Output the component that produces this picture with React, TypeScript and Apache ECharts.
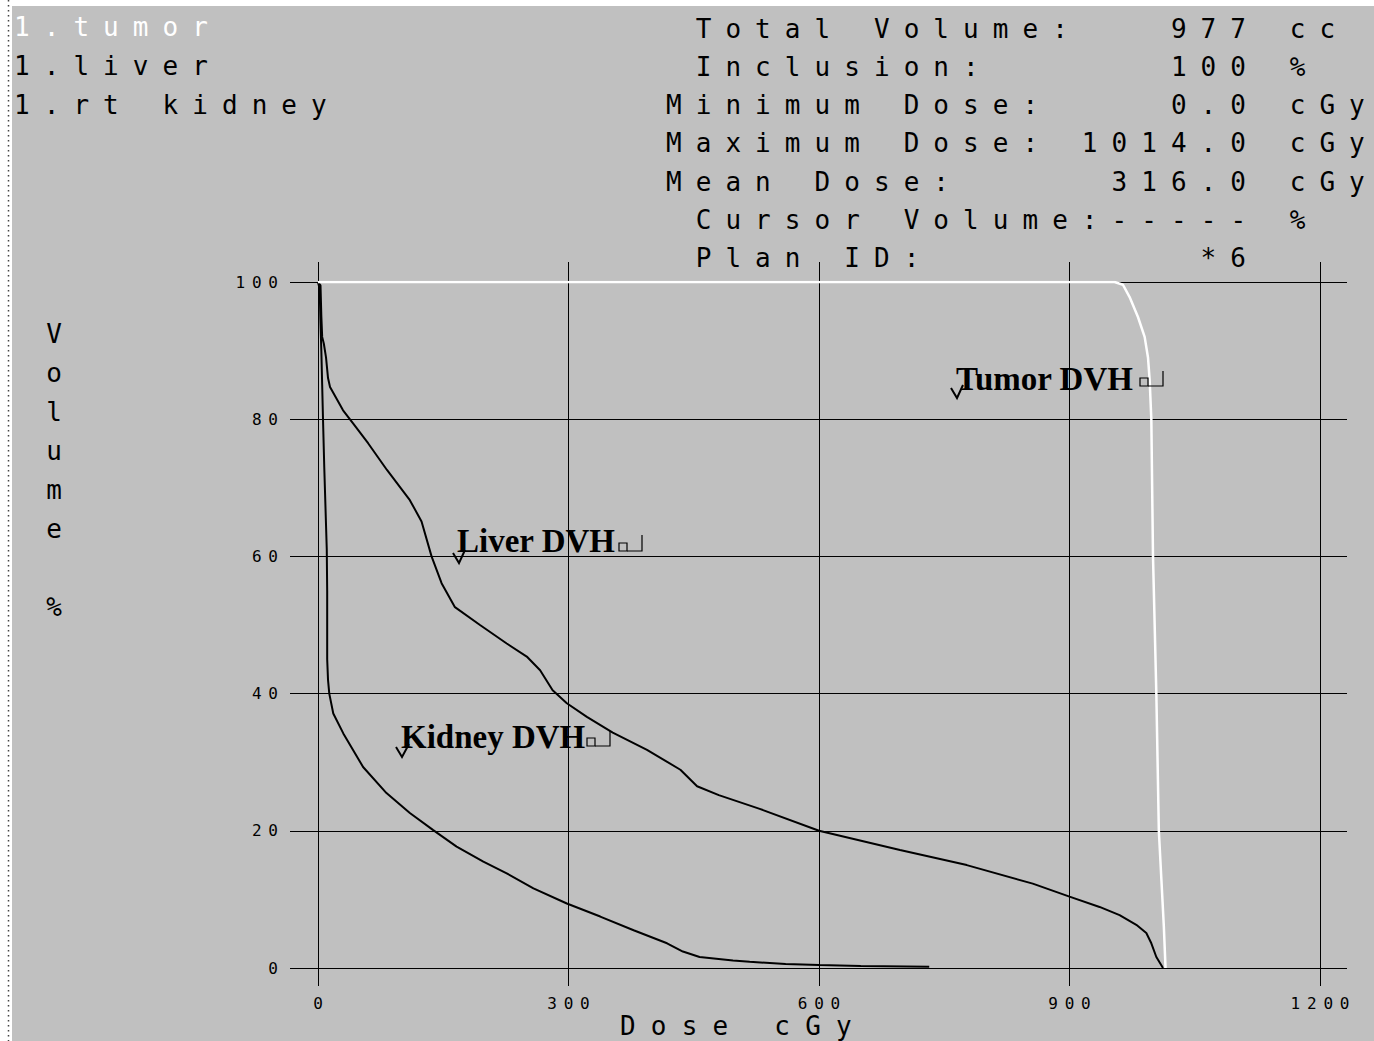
import React, { useEffect, useRef } from 'react';
import * as echarts from 'echarts';

// ---------- data ----------
const doseMin = 0;
const doseMax = 1200;
const doseStep = 300;
const volumeMin = 0;
const volumeMax = 100;
const volumeStep = 20;

const tumorDose = [0, 954, 964, 972, 982, 990, 994, 996, 998, 1000, 1004, 1007, 1010, 1013, 1015];
const tumorVolume = [100, 100, 99.6, 97.8, 94.9, 92, 89, 85.7, 80, 60, 40, 20, 13, 6, 0];

const liverDose = [0, 3, 4, 5, 7, 9.6, 12, 14.4, 30, 42, 60, 82.6, 110, 124, 136, 148, 164, 194, 226, 250, 266, 281, 298, 322, 353, 394, 434, 454, 480, 529, 600, 697, 777, 856, 900, 936, 960, 980, 992, 998, 1004, 1012];
const liverVolume = [100, 99.5, 95, 92, 91, 89, 86, 84.7, 81.3, 79.4, 76.5, 72.6, 68.2, 65.1, 60, 56.1, 52.6, 50, 47.3, 45.4, 43.4, 40.5, 38.6, 36.6, 34.3, 31.8, 28.9, 26.5, 25.2, 23.2, 20, 17.2, 15, 12.3, 10.4, 8.9, 7.7, 6.3, 5.1, 3.6, 1.6, 0];

const kidneyDose = [0, 2, 3, 4, 5, 6, 7.5, 9, 10.5, 11, 11, 12, 13.5, 18.3, 30.3, 54, 82, 110, 138, 166, 198, 226, 258, 298, 338, 378, 418, 437, 457, 497, 517, 560, 600, 650, 732];
const kidneyVolume = [100, 99, 94, 90, 85, 80, 73, 67, 61, 55, 45, 42, 40, 37.1, 34.2, 29.3, 25.5, 22.6, 20.1, 17.7, 15.5, 13.8, 11.6, 9.4, 7.5, 5.5, 3.6, 2.4, 1.6, 1.1, 0.9, 0.6, 0.45, 0.3, 0.2];

const structureNames = ['1.tumor', '1.liver', '1.rt kidney'];
const structureColors = ['#ffffff', '#000000', '#000000'];

const statLabels = ['Total Volume:', 'Inclusion:', 'Minimum Dose:', 'Maximum Dose:', 'Mean Dose:', 'Cursor Volume:-----', 'Plan ID:'];
const statLabelCols = [1, 1, 0, 0, 0, 1, 1];
const statValues = ['977', '100', '0.0', '1014.0', '316.0', '', '*6'];
const statUnits = ['cc', '%', 'cGy', 'cGy', 'cGy', '%', ''];

const annotationNames = ['Tumor DVH', 'Liver DVH', 'Kidney DVH'];

const xAxisTitle = 'Dose cGy';
const yAxisTitle = 'V\no\nl\nu\nm\ne\n\n%';

// ---------- style ----------
const MONO = 'DejaVu Sans Mono';
const SERIF = 'Liberation Serif';
const BIG_FS = 26;
const SMALL_FS = 16;
const BIG_SPACING = 14.05;
const TITLE_SPACING = 15.2;
const SMALL_SPACING = 6.8;
const PITCH = 29.7;
const COL0 = 666;

const zip = (a: number[], b: number[]) => a.map((v, i) => [v, b[i]]);

// widen the monospace texts the way the original terminal font is spaced,
// using per-glyph dx offsets (no trailing space after the last glyph)
function applySpacing(root: HTMLElement) {
  root.querySelectorAll('text').forEach((node) => {
    const el = node as SVGTextElement;
    const cs = getComputedStyle(el);
    if (!/Mono/i.test(cs.fontFamily)) return;
    const txt = el.textContent || '';
    const n = Array.from(txt).length;
    if (n < 2) return;
    const fs = parseFloat(cs.fontSize);
    let s = fs > 20 ? BIG_SPACING : SMALL_SPACING;
    if (txt === xAxisTitle) s = TITLE_SPACING;
    const list = [0];
    for (let i = 1; i < n; i++) list.push(s);
    el.setAttribute('dx', list.join(' '));
  });
}

function buildGraphics() {
  const g: any[] = [];
  g.push({ type: 'rect', shape: { x: 0, y: 0, width: 12, height: 1041 }, style: { fill: '#ffffff' }, silent: true });
  g.push({ type: 'rect', shape: { x: 0, y: 0, width: 1374, height: 6 }, style: { fill: '#ffffff' }, silent: true });
  g.push({
    type: 'line',
    shape: { x1: 8.5, y1: 0, x2: 8.5, y2: 1041 },
    style: { stroke: '#444', lineWidth: 1.5, lineDash: [1.5, 3.5] },
    silent: true,
  });

  const mono = (text: string, x: number, baseline: number, fill = '#000') => ({
    type: 'text',
    x,
    y: baseline - 7.7,
    z: 10,
    silent: true,
    style: { text, fill, fontSize: BIG_FS, fontFamily: MONO, align: 'left', verticalAlign: 'middle' },
  });

  structureNames.forEach((name, i) => {
    g.push(mono(name, 14, 35 + 39 * i, structureColors[i]));
  });

  statLabels.forEach((label, i) => {
    const base = 36.5 + 38.2 * i;
    g.push(mono(label, COL0 + statLabelCols[i] * PITCH, base));
    const v = statValues[i];
    if (v) g.push(mono(v, COL0 + (20 - v.length) * PITCH, base));
    const u = statUnits[i];
    if (u) g.push(mono(u, COL0 + 21 * PITCH, base));
  });

  g.push(mono(xAxisTitle, 620, 1033.5));
  g.push({
    type: 'text',
    x: 54,
    y: 342 - 7.7 - 19.5,
    z: 10,
    silent: true,
    style: { text: yAxisTitle, fill: '#000', fontSize: BIG_FS, fontFamily: MONO, align: 'center', verticalAlign: 'top', lineHeight: 39 },
  });

  const ann = [
    { x: 956, y: 379, box: [1140, 378], hook: [1163, 371], check: [[951, 388], [957, 398], [963, 385]] },
    { x: 457, y: 541, box: [619, 543], hook: [642, 535], check: [[453, 553], [459, 563], [465, 550]] },
    { x: 401, y: 737, box: [587, 738], hook: [610, 731], check: [[396, 747], [402, 757], [409, 744]] },
  ];
  ann.forEach((a, i) => {
    g.push({
      type: 'text',
      x: a.x,
      y: a.y,
      z: 10,
      silent: true,
      style: { text: annotationNames[i], fill: '#000', fontSize: 33, fontWeight: 'bold', fontFamily: SERIF, align: 'left', verticalAlign: 'middle' },
    });
    g.push({
      type: 'rect', z: 10, silent: true,
      shape: { x: a.box[0], y: a.box[1], width: 8, height: 8 },
      style: { fill: 'none', stroke: '#000', lineWidth: 1.2 },
    });
    g.push({
      type: 'polyline', z: 10, silent: true,
      shape: { points: [[a.box[0] + 8, a.box[1] + 8], [a.hook[0], a.box[1] + 8], [a.hook[0], a.hook[1]]] },
      style: { stroke: '#000', lineWidth: 1.2, fill: 'none' },
    });
    g.push({
      type: 'polyline', z: 10, silent: true,
      shape: { points: a.check },
      style: { stroke: '#000', lineWidth: 2, fill: 'none' },
    });
  });
  return g;
}

export default function App() {
  const ref = useRef<HTMLDivElement>(null);

  useEffect(() => {
    if (!ref.current) return;
    const chart = echarts.init(ref.current, undefined, { renderer: 'svg' });
    const lineColor = '#000';
    const plain = (v: number) => String(v);
    const option: any = {
      animation: false,
      backgroundColor: '#c0c0c0',
      grid: { left: 318, top: 282, width: 1002, height: 686, containLabel: false },
      xAxis: [
        {
          type: 'value', min: doseMin, max: doseMax, interval: doseStep, position: 'bottom',
          axisLine: { show: true, onZero: false, lineStyle: { color: lineColor, width: 1 } },
          axisTick: { show: true, length: 18, lineStyle: { color: lineColor, width: 1 } },
          axisLabel: { margin: 27, color: '#000', fontFamily: MONO, fontSize: SMALL_FS, formatter: plain },
          splitLine: { show: true, lineStyle: { color: lineColor, width: 1 } },
        },
        {
          type: 'value', min: doseMin, max: doseMax, interval: doseStep, position: 'top',
          axisLine: { show: false, onZero: false },
          axisTick: { show: true, length: 20, lineStyle: { color: lineColor, width: 1 } },
          axisLabel: { show: false },
          splitLine: { show: false },
        },
      ],
      yAxis: [
        {
          type: 'value', min: volumeMin, max: volumeMax, interval: volumeStep, position: 'left',
          axisLine: { show: true, onZero: false, lineStyle: { color: lineColor, width: 1 } },
          axisTick: { show: true, length: 28, lineStyle: { color: lineColor, width: 1 } },
          axisLabel: { margin: 40, color: '#000', fontFamily: MONO, fontSize: SMALL_FS, formatter: plain },
          splitLine: { show: true, lineStyle: { color: lineColor, width: 1 } },
        },
        {
          type: 'value', min: volumeMin, max: volumeMax, interval: volumeStep, position: 'right',
          axisLine: { show: false, onZero: false },
          axisTick: { show: true, length: 27, lineStyle: { color: lineColor, width: 1 } },
          axisLabel: { show: false },
          splitLine: { show: false },
        },
      ],
      series: [
        {
          name: 'Liver DVH', type: 'line', xAxisIndex: 0, yAxisIndex: 0,
          data: zip(liverDose, liverVolume), showSymbol: false, symbol: 'none',
          lineStyle: { color: '#000', width: 2 }, z: 3, silent: true,
        },
        {
          name: 'Kidney DVH', type: 'line', xAxisIndex: 0, yAxisIndex: 0,
          data: zip(kidneyDose, kidneyVolume), showSymbol: false, symbol: 'none',
          lineStyle: { color: '#000', width: 2 }, z: 3, silent: true,
        },
        {
          name: 'Tumor DVH', type: 'line', xAxisIndex: 0, yAxisIndex: 0,
          data: zip(tumorDose, tumorVolume), showSymbol: false, symbol: 'none',
          lineStyle: { color: '#ffffff', width: 2.5 }, z: 4, silent: true,
        },
      ],
      graphic: buildGraphics(),
    };
    chart.setOption(option);
    const el = ref.current;
    applySpacing(el);
    const onFinished = () => applySpacing(el);
    chart.on('finished', onFinished);
    return () => {
      chart.off('finished', onFinished);
      chart.dispose();
    };
  }, []);

  return (
    <div
      ref={ref}
      style={{ position: 'absolute', left: 0, top: 0, width: 1374, height: 1041, background: '#ffffff' }}
    />
  );
}
